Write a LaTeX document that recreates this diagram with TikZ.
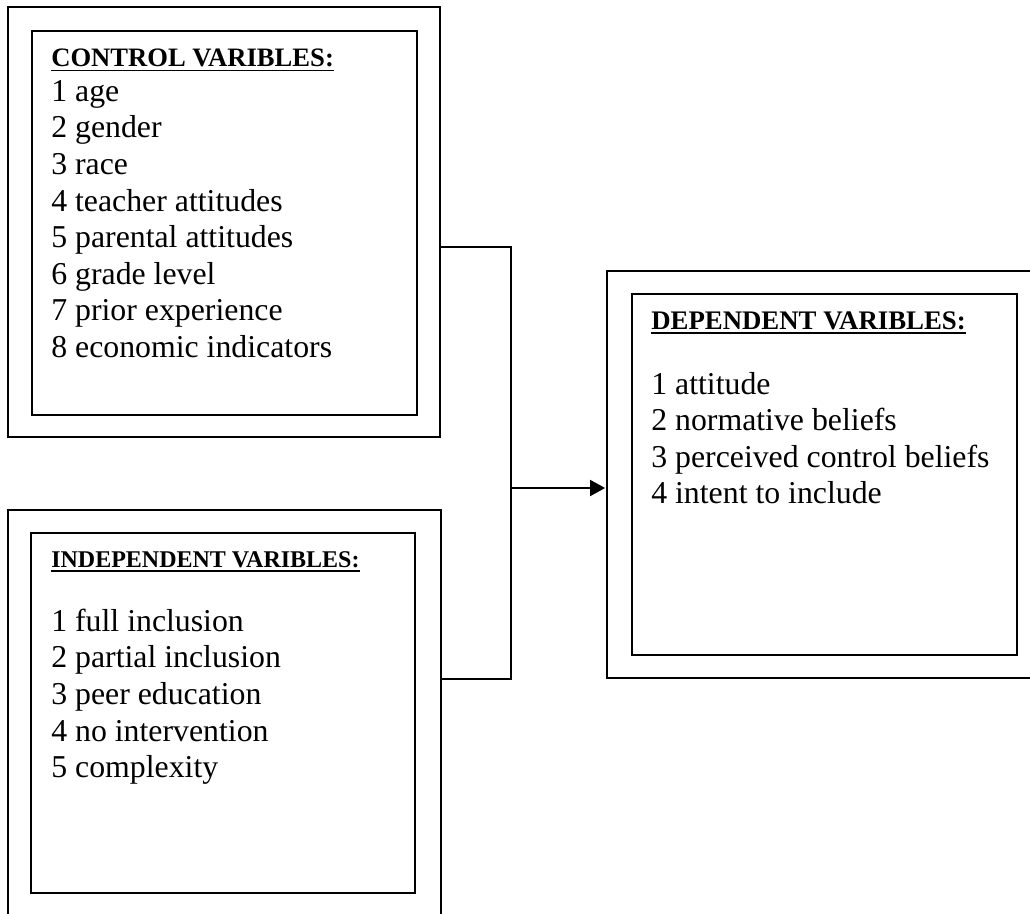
\documentclass[tikz,border=0pt]{standalone}
\usepackage{fontspec}
\setmainfont{Liberation Serif}
\usetikzlibrary{arrows.meta,positioning}
\newcommand{\varhead}[2]{{\fontsize{#1}{#1}\selectfont\bfseries\setbox0=\hbox{#2}%
  \rlap{\rule[-5pt]{\wd0}{1.8pt}}\box0}}
\tikzset{
  frame/.style={draw=black,line width=1.8pt,inner sep=0pt,minimum width=#1},
  frame/.default=385pt,
  vlist/.style={align=left,inner sep=0pt,text=black,
    font=\fontsize{31.8}{36.6}\selectfont},
  wire/.style={line width=1.8pt,draw=black},
  arr/.style={-{Triangle[length=15pt,width=16pt]},line width=1.8pt,draw=black,shorten >=1pt},
}
\begin{document}
\begin{tikzpicture}[x=1pt,y=-1pt]
    \useasboundingbox (0,0) rectangle (1030,913);

    % control variables
    \node[frame=432pt,minimum height=430pt] (ctrlout) at (224,222) {};
    \node[frame=385pt,minimum height=384pt] (ctrlin) at (224.5,223) {};
    \node[vlist,below right=18.4pt and 20pt of ctrlin.north west] (ctrltxt)
      {\varhead{26.6}{CONTROL VARIBLES:}\\[-1.6pt]
       1 age\\2 gender\\3 race\\4 teacher attitudes\\5 parental attitudes\\
       6 grade level\\7 prior experience\\8 economic indicators};

    % independent variables
    \node[frame=433pt,minimum height=430pt] (indout) at (224.5,725) {};
    \node[frame=384pt,minimum height=360pt] (indin) at (223,713) {};
    \node[vlist,below right=19pt and 21pt of indin.north west] (indtxt)
      {\varhead{24}{INDEPENDENT VARIBLES:}\\[27.4pt]
       1 full inclusion\\2 partial inclusion\\3 peer education\\
       4 no intervention\\5 complexity};

    % dependent variables
    \node[frame=450pt,minimum height=407pt] (depout) at (832,474.5) {};
    \node[frame=385pt,minimum height=361pt] (depin) at (824.5,474.5) {};
    \node[vlist,below right=18pt and 20pt of depin.north west] (deptxt)
      {\varhead{26.8}{DEPENDENT VARIBLES:}\\[28.4pt]
       1 attitude\\2 normative beliefs\\3 perceived control beliefs\\
       4 intent to include};

    \coordinate (bus) at (511,488);
    \draw[wire] ([yshift=-25pt]ctrlout.east) -| (bus);
    \draw[wire] ([yshift=46pt]indout.east) -| (bus);
    \draw[arr] (bus) -- (bus -| depout.west);
  \end{tikzpicture}
\end{document}
